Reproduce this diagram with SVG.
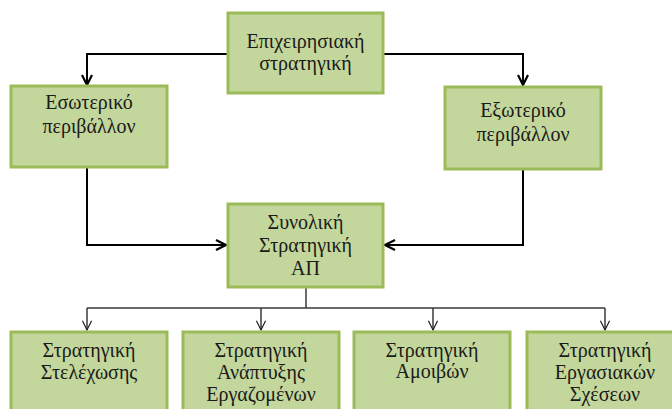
<svg xmlns="http://www.w3.org/2000/svg" width="672" height="409" viewBox="0 0 672 409">
  <style>
    .box { fill: #c3d69b; stroke: #9bbb59; stroke-width: 3; }
    .lbl { font-family: "Liberation Serif", "Times New Roman", serif; font-size: 20px; fill: #1a1a1a; text-anchor: middle; }
    .main { fill: none; stroke: #000; stroke-width: 2; }
    .branch { fill: none; stroke: #3a3a3a; stroke-width: 1.5; }
  </style>
  <defs>
    <marker id="headBold" viewBox="0 0 12 12" refX="11" refY="6" markerWidth="12" markerHeight="12" markerUnits="userSpaceOnUse" orient="auto">
      <path d="M1,1 L11,6 L1,11" fill="none" stroke="#000" stroke-width="2.2"/>
    </marker>
    <marker id="headThin" viewBox="0 0 12 12" refX="11" refY="6" markerWidth="11" markerHeight="12" markerUnits="userSpaceOnUse" orient="auto">
      <path d="M1,1 L11,6 L1,11" fill="none" stroke="#222" stroke-width="1.3"/>
    </marker>
  </defs>
  <rect width="672" height="409" fill="#fff"/>

  <g id="connectors">
    <path class="main" d="M228,54 H87 V85" marker-end="url(#headBold)"/>
    <path class="main" d="M383,54 H523 V85" marker-end="url(#headBold)"/>
    <path class="main" d="M87,167 V245 H226" marker-end="url(#headBold)"/>
    <path class="main" d="M523,169 V245 H385" marker-end="url(#headBold)"/>
    <path class="branch" d="M306,288 V308"/>
    <path class="branch" d="M87,308 H605"/>
    <path class="branch" d="M87,308 V330" marker-end="url(#headThin)"/>
    <path class="branch" d="M261,308 V330" marker-end="url(#headThin)"/>
    <path class="branch" d="M433,308 V330" marker-end="url(#headThin)"/>
    <path class="branch" d="M605,308 V330" marker-end="url(#headThin)"/>
  </g>

  <g id="business-strategy">
    <rect class="box" x="228" y="13" width="155" height="80"/>
    <text class="lbl" x="305.5" y="48">Επιχειρησιακή</text>
    <text class="lbl" x="305.5" y="70">στρατηγική</text>
  </g>
  <g id="internal-env">
    <rect class="box" x="11" y="86" width="156" height="81"/>
    <text class="lbl" x="89" y="109">Εσωτερικό</text>
    <text class="lbl" x="89" y="133">περιβάλλον</text>
  </g>
  <g id="external-env">
    <rect class="box" x="445" y="87" width="156" height="82"/>
    <text class="lbl" x="523" y="117">Εξωτερικό</text>
    <text class="lbl" x="523" y="141">περιβάλλον</text>
  </g>
  <g id="overall-hr-strategy">
    <rect class="box" x="228" y="204" width="155" height="83"/>
    <text class="lbl" x="305.5" y="229">Συνολική</text>
    <text class="lbl" x="305.5" y="252">Στρατηγική</text>
    <text class="lbl" x="305.5" y="275">ΑΠ</text>
  </g>
  <g id="staffing">
    <rect class="box" x="11" y="332" width="156" height="90"/>
    <text class="lbl" x="89" y="357">Στρατηγική</text>
    <text class="lbl" x="89" y="379">Στελέχωσης</text>
  </g>
  <g id="development">
    <rect class="box" x="183" y="332" width="156" height="90"/>
    <text class="lbl" x="261" y="357">Στρατηγική</text>
    <text class="lbl" x="261" y="379">Ανάπτυξης</text>
    <text class="lbl" x="261" y="401">Εργαζομένων</text>
  </g>
  <g id="rewards">
    <rect class="box" x="354" y="332" width="156" height="90"/>
    <text class="lbl" x="432" y="357">Στρατηγική</text>
    <text class="lbl" x="432" y="378">Αμοιβών</text>
  </g>
  <g id="labour-relations">
    <rect class="box" x="527" y="332" width="156" height="90"/>
    <text class="lbl" x="605" y="357">Στρατηγική</text>
    <text class="lbl" x="605" y="379">Εργασιακών</text>
    <text class="lbl" x="605" y="401">Σχέσεων</text>
  </g>
</svg>
